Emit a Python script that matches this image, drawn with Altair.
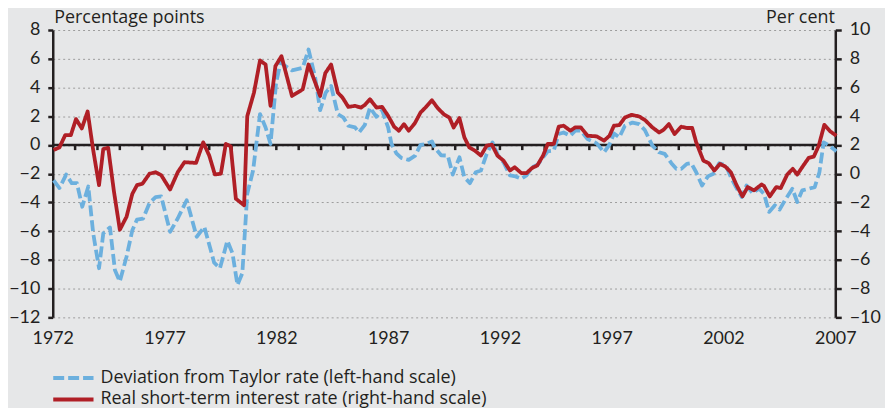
import altair as alt
import pandas as pd

# ---------------- data ----------------
BLUE_NAME = "Deviation from Taylor rate (left-hand scale)"
RED_NAME = "Real short-term interest rate (right-hand scale)"

blue_years = [
    1972.04, 1972.30, 1972.60, 1972.85, 1973.08, 1973.32, 1973.59, 1973.81, 1974.07, 1974.26,
    1974.56, 1974.78, 1975.00, 1975.30, 1975.56, 1975.77, 1976.04, 1976.33, 1976.60, 1976.85,
    1977.25, 1977.59, 1977.99, 1978.44, 1978.78, 1979.22, 1979.48, 1979.81, 1980.04, 1980.26,
    1980.48, 1980.70, 1980.96, 1981.27, 1981.52, 1981.74, 1981.99, 1982.19, 1982.70, 1983.18,
    1983.44, 1983.74, 1983.96, 1984.21, 1984.45, 1984.75, 1985.00, 1985.22, 1985.52, 1985.70,
    1985.96, 1986.19, 1986.48, 1986.73, 1987.00, 1987.15, 1987.37, 1987.59, 1987.92, 1988.21,
    1988.45, 1988.70, 1988.96, 1989.08, 1989.37, 1989.67, 1989.89, 1990.19, 1990.41, 1990.66,
    1990.92, 1991.15, 1991.41, 1991.67, 1991.92, 1992.16, 1992.45, 1992.70, 1992.96, 1993.19,
    1993.44, 1993.70, 1993.93, 1994.14, 1994.41, 1994.63, 1994.85, 1995.15, 1995.37, 1995.62,
    1995.92, 1996.33, 1996.66, 1996.90, 1997.10, 1997.34, 1997.59, 1997.93, 1998.23, 1998.48,
    1998.82, 1999.12, 1999.37, 1999.67, 1999.89, 2000.11, 2000.36, 2000.56, 2000.78, 2001.04,
    2001.30, 2001.55, 2001.81, 2002.11, 2002.33, 2002.56, 2002.82, 2003.03, 2003.30, 2003.59,
    2003.81, 2004.04, 2004.30, 2004.51, 2004.75, 2005.08, 2005.30, 2005.52, 2005.81, 2006.08,
    2006.29, 2006.48, 2006.73, 2007.05,
]
blue_values = [
    -2.47, -3.0, -2.06, -2.66, -2.66, -4.3, -2.89, -6.16, -8.58, -6.16,
    -5.74, -8.7, -9.5, -7.78, -5.93, -5.19, -5.12, -4.04, -3.63, -3.58,
    -6.05, -5.12, -3.85, -6.39, -5.7, -8.19, -8.58, -6.67, -7.54, -9.74,
    -8.93, -3.39, -1.78, 2.15, 1.22, 0.07, 4.33, 5.72, 5.19, 5.37,
    6.64, 4.68, 2.42, 3.64, 4.1, 2.15, 1.91, 1.34, 1.22, 0.87,
    1.4, 2.6, 1.96, 2.42, 1.22, 0.07, -0.58, -0.9, -1.04, -0.74,
    0.0, 0.07, 0.25, -0.17, -0.72, -0.74, -2.06, -0.86, -2.24, -2.66,
    -1.9, -1.78, -0.62, 0.18, -0.74, -1.2, -2.12, -2.19, -2.35, -2.12,
    -1.55, -1.36, -0.86, -0.44, -0.39, 0.76, 0.87, 0.64, 0.99, 0.99,
    0.41, 0.11, -0.51, 0.02, 0.8, 0.53, 1.34, 1.56, 1.45, 1.04,
    -0.05, -0.51, -0.62, -1.27, -1.66, -1.66, -1.32, -1.27, -1.9, -2.82,
    -2.19, -2.0, -1.27, -1.43, -2.24, -2.93, -3.63, -2.82, -3.35, -3.05,
    -3.39, -4.66, -4.2, -4.5, -3.85, -3.05, -3.97, -3.16, -3.05, -2.93,
    -1.9, 0.18, -0.05, -0.44,
]

red_years = [
    1972.04, 1972.30, 1972.56, 1972.81, 1973.04, 1973.30, 1973.56, 1973.79, 1974.07, 1974.26,
    1974.48, 1974.73, 1975.00, 1975.30, 1975.56, 1975.77, 1976.01, 1976.33, 1976.60, 1976.85,
    1977.25, 1977.59, 1977.89, 1978.41, 1978.73, 1979.00, 1979.25, 1979.52, 1979.74, 1979.96,
    1980.19, 1980.56, 1980.70, 1981.00, 1981.27, 1981.52, 1981.74, 1981.96, 1982.23, 1982.70,
    1983.18, 1983.44, 1983.96, 1984.19, 1984.45, 1984.75, 1984.96, 1985.22, 1985.52, 1985.79,
    1985.96, 1986.19, 1986.48, 1986.73, 1987.00, 1987.27, 1987.48, 1987.71, 1987.92, 1988.19,
    1988.45, 1988.70, 1988.96, 1989.22, 1989.49, 1989.74, 1989.93, 1990.19, 1990.41, 1990.63,
    1990.88, 1991.15, 1991.41, 1991.64, 1991.89, 1992.16, 1992.45, 1992.66, 1992.96, 1993.19,
    1993.44, 1993.67, 1993.93, 1994.14, 1994.41, 1994.63, 1994.85, 1995.15, 1995.37, 1995.62,
    1995.92, 1996.33, 1996.66, 1996.90, 1997.10, 1997.34, 1997.59, 1997.89, 1998.23, 1998.48,
    1998.82, 1999.12, 1999.32, 1999.56, 1999.81, 2000.11, 2000.36, 2000.60, 2000.78, 2001.10,
    2001.34, 2001.59, 2001.84, 2002.08, 2002.33, 2002.59, 2002.85, 2003.08, 2003.37, 2003.70,
    2003.81, 2004.07, 2004.36, 2004.56, 2004.85, 2005.10, 2005.30, 2005.55, 2005.81, 2006.04,
    2006.26, 2006.51, 2006.78, 2007.05,
]
red_values = [
    1.65, 1.83, 2.69, 2.69, 3.8, 3.15, 4.33, 1.83, -0.8, 1.72,
    1.8, -1.16, -3.9, -3.0, -1.4, -0.8, -0.7, 0.0, 0.1, -0.1,
    -1.1, 0.1, 0.8, 0.75, 2.18, 1.26, -0.05, 0.0, 2.07, 1.9,
    -1.74, -2.2, 4.0, 5.64, 7.88, 7.6, 4.72, 7.49, 8.18, 5.41,
    5.87, 7.6, 5.41, 7.0, 7.6, 5.64, 5.3, 4.65, 4.72, 4.6,
    4.79, 5.18, 4.6, 4.65, 4.03, 3.27, 2.99, 3.45, 2.99, 3.5,
    4.26, 4.65, 5.11, 4.56, 4.14, 3.91, 3.22, 3.87, 2.53, 1.83,
    1.61, 1.26, 1.95, 2.02, 1.26, 0.91, 0.22, 0.45, 0.04, 0.04,
    0.4, 0.57, 1.26, 2.07, 2.07, 3.27, 3.34, 2.99, 3.22, 3.22,
    2.64, 2.6, 2.3, 2.64, 3.34, 3.38, 3.91, 4.1, 3.98, 3.75,
    3.22, 2.87, 3.06, 3.45, 2.76, 3.27, 3.18, 3.18, 2.18, 0.91,
    0.73, 0.22, 0.68, 0.5, 0.1, -0.82, -1.58, -0.93, -1.16, -0.75,
    -0.85, -1.58, -0.93, -1.0, -0.06, 0.34, -0.06, 0.52, 1.1, 1.19,
    1.95, 3.4, 2.94, 2.64,
]

x_label_years = [1972, 1977, 1982, 1987, 1992, 1997, 2002, 2007]
year_ticks = list(range(1973, 2008))
left_ticks = [-12, -10, -8, -6, -4, -2, 0, 2, 4, 6, 8]
right_ticks = [-10, -8, -6, -4, -2, 0, 2, 4, 6, 8, 10]

# ---------------- styling ----------------
BG = "#E6E7E8"
INK = "#231F20"
BLUE = "#6CB0DE"
RED = "#B01F26"
FONT = "Lato"
TEXT_FONT = "Open Sans"

blue_df = pd.DataFrame({"year": blue_years, "value": blue_values, "series": BLUE_NAME})
red_df = pd.DataFrame({"year": red_years, "value": red_values, "series": RED_NAME})
zero_df = pd.DataFrame({"value": [0]})
tick_df = pd.DataFrame({"year": year_ticks, "value": 0.0, "value2": -0.36})

x_scale = alt.Scale(domain=[1972, 2007], nice=False, zero=False)
left_scale = alt.Scale(domain=[-12, 8], nice=False, zero=False)
right_scale = alt.Scale(domain=[-10, 10], nice=False, zero=False)

x_axis = alt.Axis(
    values=x_label_years, format="d", domain=False, ticks=False, grid=False,
    labelFont=FONT, labelFontSize=18, labelColor=INK, labelPadding=12,
    labelFlush=False, title=None,
)
left_axis = alt.Axis(
    values=left_ticks, orient="left", grid=True, gridDash=[2, 3], gridColor="#9C9C9C",
    gridWidth=1, domainColor=INK, domainWidth=2.5, tickColor=INK, tickWidth=2.5,
    tickSize=5, labelPadding=8, labelFont=FONT, labelFontSize=18, labelColor=INK,
    title="Percentage points", titleAngle=0, titleAlign="left", titleBaseline="alphabetic",
    titleX=1, titleY=-8, titleFont=TEXT_FONT, titleFontSize=18, titleFontWeight="normal",
    titleColor=INK,
)
right_axis = alt.Axis(
    values=right_ticks, orient="right", grid=False, domainColor=INK, domainWidth=2.5,
    tickColor=INK, tickWidth=2.5, tickSize=6, labelPadding=8, labelFont=FONT,
    labelFontSize=18, labelColor=INK,
    title="Per cent", titleAngle=0, titleAlign="right", titleBaseline="alphabetic",
    titleX=-1, titleY=-8, titleFont=TEXT_FONT, titleFontSize=18, titleFontWeight="normal",
    titleColor=INK,
)

color_scale = alt.Scale(domain=[BLUE_NAME, RED_NAME], range=[BLUE, RED])
dash_scale = alt.Scale(domain=[BLUE_NAME, RED_NAME], range=[[11, 4], [1, 0]])
# a long horizontal stroke drawn as a custom path, so that rows can sit close together
legend = alt.Legend(
    title=None, orient="none", legendX=-4, legendY=341, direction="vertical",
    symbolType="M-1,0H8", symbolSize=81, symbolStrokeWidth=4, labelFont=TEXT_FONT,
    labelFontSize=18, labelColor=INK, labelOffset=34, rowPadding=3.6, padding=0,
    labelLimit=700,
)

zero_line = alt.Chart(zero_df).mark_rule(color=INK, strokeWidth=2.5).encode(
    y=alt.Y("value:Q", scale=left_scale, axis=left_axis)
)
year_tick_marks = alt.Chart(tick_df).mark_rule(color=INK, strokeWidth=2.5).encode(
    x=alt.X("year:Q", scale=x_scale, axis=x_axis),
    y=alt.Y("value:Q", scale=left_scale, axis=left_axis),
    y2="value2:Q",
)
blue_line = alt.Chart(blue_df).mark_line(strokeWidth=3.8, strokeJoin="round").encode(
    x=alt.X("year:Q", scale=x_scale, axis=x_axis),
    y=alt.Y("value:Q", scale=left_scale, axis=left_axis),
    color=alt.Color("series:N", scale=color_scale, legend=legend),
    strokeDash=alt.StrokeDash("series:N", scale=dash_scale, legend=legend),
)
red_line = alt.Chart(red_df).mark_line(strokeWidth=3.8, strokeJoin="round").encode(
    x=alt.X("year:Q", scale=x_scale, axis=x_axis),
    y=alt.Y("value:Q", scale=right_scale, axis=right_axis),
    color=alt.Color("series:N", scale=color_scale, legend=legend),
    strokeDash=alt.StrokeDash("series:N", scale=dash_scale, legend=legend),
)

left_part = alt.layer(zero_line, year_tick_marks, blue_line)

chart = (
    alt.layer(left_part, red_line)
    .resolve_scale(y="independent")
    .properties(
        width=787, height=289,
        padding={"left": 45, "top": 21, "right": 50, "bottom": 90},
        autosize=alt.AutoSizeParams(type="none"),
        background=BG,
    )
    .configure_view(stroke=None, fill=BG)
)

chart.save("out.html", embed_options={"renderer": "svg", "actions": False})
